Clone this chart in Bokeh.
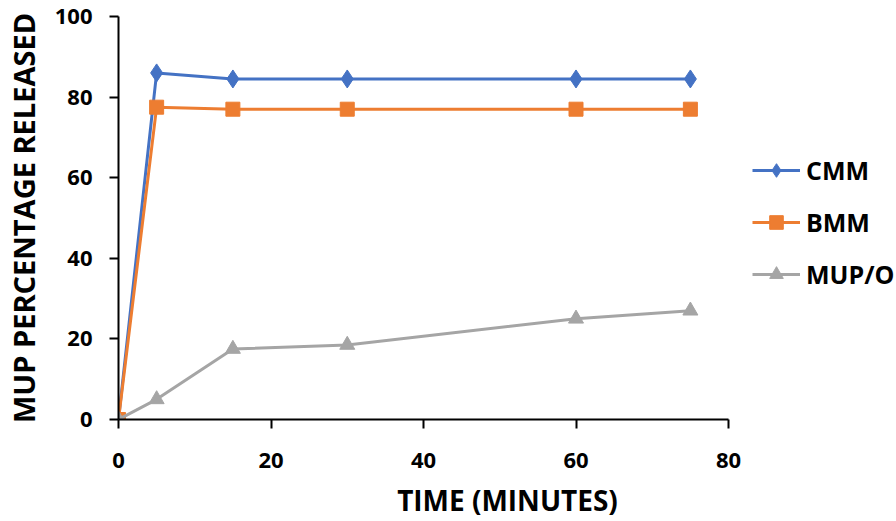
from bokeh.plotting import figure
from bokeh.models import Legend, LegendItem, Range1d, FixedTicker
from bokeh.embed import file_html
from bokeh.resources import INLINE

time_min = [0, 5, 15, 30, 60, 75]
cmm = [0, 86, 84.5, 84.5, 84.5, 84.5]
bmm = [0, 77.5, 77, 77, 77, 77]
mup_o = [0, 5, 17.5, 18.5, 25, 27]
series_names = ["CMM", "BMM", "MUP/O"]
x_ticks = [0, 20, 40, 60, 80]
y_ticks = [0, 20, 40, 60, 80, 100]
x_axis_end = 80
y_axis_end = 100

FONT = "Open Sans"
W, H = 896, 521
LEFT, AXIS_RIGHT = 118, 728
x_view_end = x_axis_end * (W - LEFT) / (AXIS_RIGHT - LEFT)

p = figure(width=W, height=H, output_backend="svg", toolbar_location=None,
           x_range=Range1d(0, x_view_end), y_range=Range1d(0, y_axis_end),
           min_border_left=LEFT, min_border_right=0, min_border_top=16,
           min_border_bottom=102)
p.outline_line_color = None
p.xgrid.visible = False
p.ygrid.visible = False

r1l = p.line(time_min, cmm, line_color="#4472C4", line_width=3)
r1m = p.scatter(time_min, cmm, marker="diamond", size=18, color="#4472C4")
r2l = p.line(time_min, bmm, line_color="#ED7D31", line_width=3)
r2m = p.scatter(time_min, bmm, marker="square", size=14, color="#ED7D31")
r3l = p.line(time_min, mup_o, line_color="#A5A5A5", line_width=3)
r3m = p.scatter(time_min, mup_o, marker="triangle", size=15, color="#A5A5A5")

for ax, ticks in ((p.xaxis[0], x_ticks), (p.yaxis[0], y_ticks)):
    ax.ticker = FixedTicker(ticks=ticks)
    ax.minor_tick_line_color = None
    ax.major_tick_in = 0
    ax.major_tick_out = 9
    ax.axis_line_width = 2
    ax.major_tick_line_width = 2
    ax.axis_line_color = "black"
    ax.major_tick_line_color = "black"
    ax.major_label_text_font = FONT
    ax.major_label_text_font_style = "bold"
    ax.major_label_text_font_size = "22px"
    ax.major_label_text_color = "black"
    ax.axis_label_text_font = FONT
    ax.axis_label_text_font_style = "bold"
    ax.axis_label_text_color = "black"

p.xaxis.bounds = (0, x_axis_end)
p.xaxis.axis_label = "TIME (MINUTES)"
p.yaxis.axis_label = "MUP PERCENTAGE RELEASED"
p.xaxis.axis_label_text_font_size = "28px"
p.yaxis.axis_label_text_font_size = "29px"
p.xaxis.major_label_standoff = 24
p.yaxis.major_label_standoff = 17
p.xaxis.axis_label_standoff = 10
p.yaxis.axis_label_standoff = 9

legend = Legend(items=[
    LegendItem(label=series_names[0], renderers=[r1l, r1m]),
    LegendItem(label=series_names[1], renderers=[r2l, r2m]),
    LegendItem(label=series_names[2], renderers=[r3l, r3m]),
], location=(AXIS_RIGHT + 24 - LEFT, 128))
legend.padding = 0
legend.margin = 0
legend.border_line_color = None
legend.background_fill_alpha = 0
legend.glyph_width = 48
legend.glyph_height = 34
legend.label_height = 34
legend.spacing = 18
legend.label_standoff = 6
legend.label_text_font = FONT
legend.label_text_font_style = "bold"
legend.label_text_font_size = "25px"
legend.label_text_color = "black"
p.add_layout(legend, "center")

open("out.html", "w").write(file_html(p, INLINE))
